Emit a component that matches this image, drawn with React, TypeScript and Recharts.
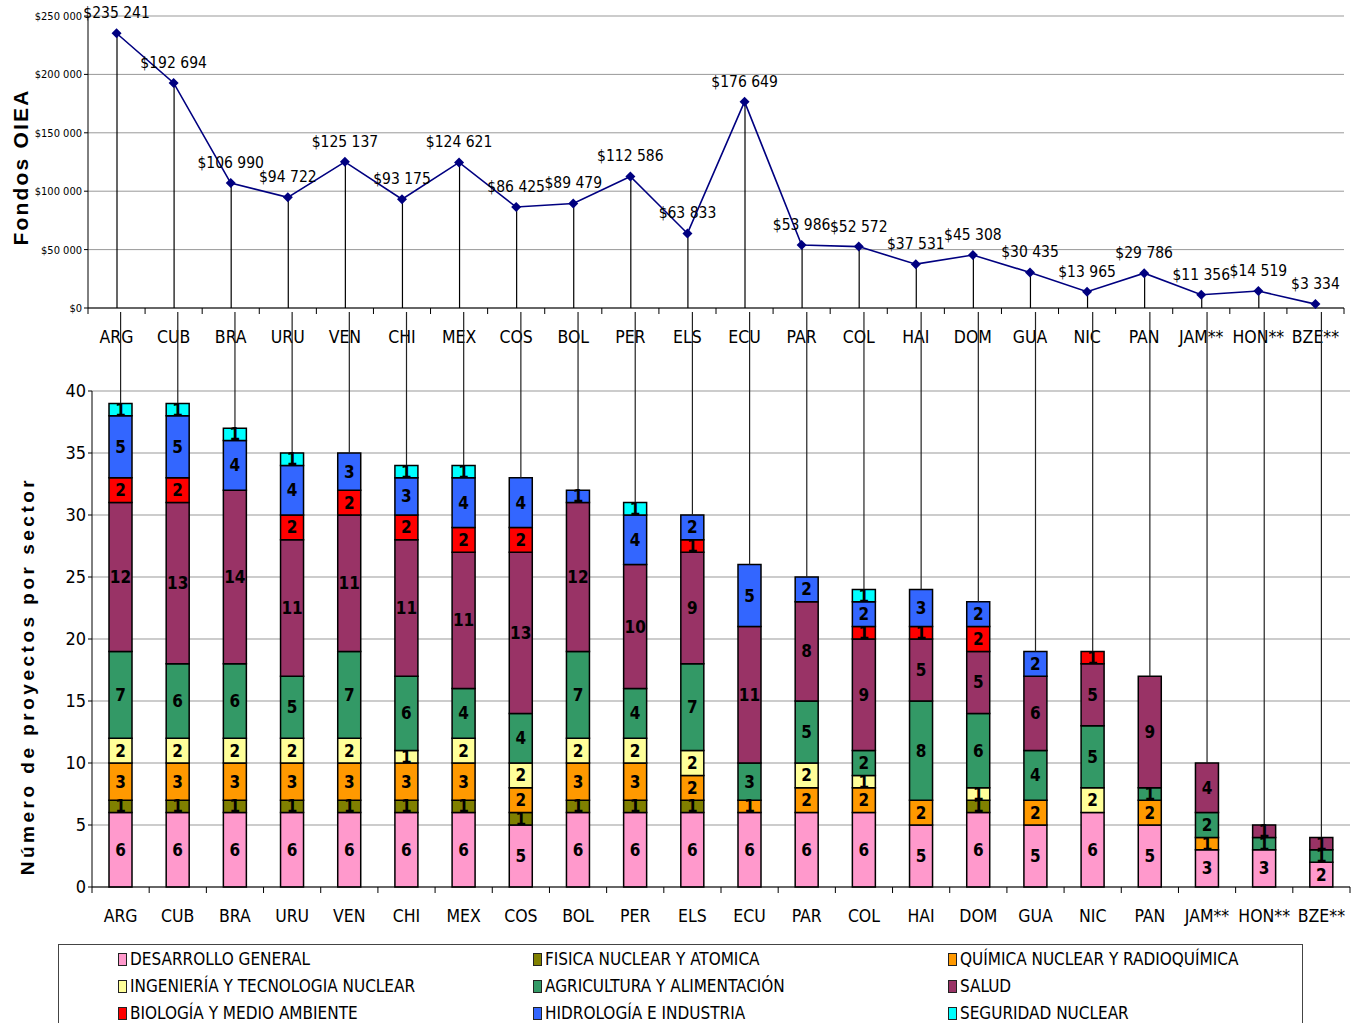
import React from 'react';
import { ComposedChart, Bar, Line, XAxis, YAxis, CartesianGrid, LabelList, Label } from 'recharts';

const countries = ['ARG', 'CUB', 'BRA', 'URU', 'VEN', 'CHI', 'MEX', 'COS', 'BOL', 'PER', 'ELS', 'ECU', 'PAR', 'COL', 'HAI', 'DOM', 'GUA', 'NIC', 'PAN', 'JAM**', 'HON**', 'BZE**'];
const fondos = [235241, 192694, 106990, 94722, 125137, 93175, 124621, 86425, 89479, 112586, 63833, 176649, 53986, 52572, 37531, 45308, 30435, 13965, 29786, 11356, 14519, 3334];
const fondosTicks = [0, 50000, 100000, 150000, 200000, 250000];

// proyectos por sector (de abajo hacia arriba en la pila)
const desarrollo = [6, 6, 6, 6, 6, 6, 6, 5, 6, 6, 6, 6, 6, 6, 5, 6, 5, 6, 5, 3, 3, 2];
const fisica = [1, 1, 1, 1, 1, 1, 1, 1, 1, 1, 1, 0, 0, 0, 0, 1, 0, 0, 0, 0, 0, 0];
const quimica = [3, 3, 3, 3, 3, 3, 3, 2, 3, 3, 2, 1, 2, 2, 2, 0, 2, 0, 2, 1, 0, 0];
const ingenieria = [2, 2, 2, 2, 2, 1, 2, 2, 2, 2, 2, 0, 2, 1, 0, 1, 0, 2, 0, 0, 0, 0];
const agricultura = [7, 6, 6, 5, 7, 6, 4, 4, 7, 4, 7, 3, 5, 2, 8, 6, 4, 5, 1, 2, 1, 1];
const salud = [12, 13, 14, 11, 11, 11, 11, 13, 12, 10, 9, 11, 8, 9, 5, 5, 6, 5, 9, 4, 1, 1];
const biologia = [2, 2, 0, 2, 2, 2, 2, 2, 0, 0, 1, 0, 0, 1, 1, 2, 0, 1, 0, 0, 0, 0];
const hidrologia = [5, 5, 4, 4, 3, 3, 4, 4, 1, 4, 2, 5, 2, 2, 3, 2, 2, 0, 0, 0, 0, 0];
const seguridad = [1, 1, 1, 1, 0, 1, 1, 0, 0, 1, 0, 0, 0, 1, 0, 0, 0, 0, 0, 0, 0, 0];
const proyectosTicks = [0, 5, 10, 15, 20, 25, 30, 35, 40];

const sectores = [
  { key: 'desarrollo', name: 'DESARROLLO GENERAL', color: '#FF99CC', values: desarrollo },
  { key: 'fisica', name: 'FISICA NUCLEAR Y ATOMICA', color: '#808000', values: fisica },
  { key: 'quimica', name: 'QUÍMICA NUCLEAR Y RADIOQUÍMICA', color: '#FF9900', values: quimica },
  { key: 'ingenieria', name: 'INGENIERÍA Y TECNOLOGIA NUCLEAR', color: '#FFFF99', values: ingenieria },
  { key: 'agricultura', name: 'AGRICULTURA Y ALIMENTACIÓN', color: '#339966', values: agricultura },
  { key: 'salud', name: 'SALUD', color: '#993366', values: salud },
  { key: 'biologia', name: 'BIOLOGÍA Y MEDIO AMBIENTE', color: '#FF0000', values: biologia },
  { key: 'hidrologia', name: 'HIDROLOGÍA E INDUSTRIA', color: '#3366FF', values: hidrologia },
  { key: 'seguridad', name: 'SEGURIDAD NUCLEAR', color: '#00FFFF', values: seguridad },
];

const fondosData = countries.map((code, i) => ({ code, fondos: fondos[i] }));
const proyectosData = countries.map((code, i) => {
  const row: any = { code };
  let total = 0;
  sectores.forEach((s) => {
    row[s.key] = s.values[i];
    total += s.values[i];
  });
  row.total = total;
  return row;
});

const NARROW = '"Liberation Sans Narrow", "Arial Narrow", "DejaVu Sans Condensed", sans-serif';
const W = 1354;

const money = (v: number) => {
  if (v === 0) return '$0';
  const k = Math.floor(v / 1000);
  const r = String(v % 1000).padStart(3, '0');
  return `$${k} ${r}`;
};

const makeTick = (step: number) => (props: any) => {
  const { x, y, payload, index } = props;
  const last = index === countries.length - 1;
  return (
    <g>
      <line x1={x - step / 2} y1={y} x2={x - step / 2} y2={y + 6} stroke="#000" />
      {last && <line x1={x + step / 2} y1={y} x2={x + step / 2} y2={y + 6} stroke="#000" />}
      <text x={x} y={y + 29} textAnchor="middle" dominantBaseline="central" fontFamily={NARROW} fontSize={17.5} fill="#000">
        {payload.value}
      </text>
    </g>
  );
};

const Diamond = (p: any) => {
  const { cx, cy } = p;
  if (cx == null || cy == null) return null;
  return <polygon points={`${cx},${cy - 5} ${cx + 5},${cy} ${cx},${cy + 5} ${cx - 5},${cy}`} fill="#000080" />;
};

const DropLine = (p: any) => {
  const cx = p.x + p.width / 2;
  return <line x1={cx} y1={p.y} x2={cx} y2={p.y + p.height} stroke="#000" strokeWidth={1.2} />;
};

const RiseLine = (p: any) => {
  const { cx, cy } = p;
  if (cx == null || cy == null) return null;
  return <line x1={cx} y1={cy} x2={cx} y2={0} stroke="#222" strokeWidth={1.2} />;
};

const SegLabel = (p: any) => {
  const { x, y, width, height, value } = p;
  if (!value) return null;
  return (
    <text x={x + width / 2} y={y + height / 2} textAnchor="middle" dominantBaseline="central" fontFamily={NARROW} fontWeight="bold" fontSize={17} fill="#000">
      {value}
    </text>
  );
};

const AxisTitle = (text: string, cx: number, dy: number, size: number, spacing: number) => (p: any) => {
  const vb = p.viewBox;
  const cy = vb.y + vb.height / 2 + dy;
  return (
    <text x={cx} y={cy} transform={`rotate(-90 ${cx} ${cy})`} textAnchor="middle" dominantBaseline="central" fontFamily="'Liberation Sans', Arial, sans-serif" fontWeight="bold" fontSize={size} letterSpacing={spacing} fill="#000">
      {text}
    </text>
  );
};

const TopChart = () => {
  const step = (W - 10 - 88) / countries.length;
  return (
    <ComposedChart width={W} height={350} data={fondosData} margin={{ top: 16, right: 10, left: 8, bottom: 12 }}>
      <CartesianGrid vertical={false} stroke="#999" />
      <XAxis dataKey="code" tickSize={0} tickMargin={0} tick={makeTick(step)} stroke="#000" height={30} interval={0} />
      <YAxis
        width={80}
        domain={[0, 250000]}
        ticks={fondosTicks}
        tickFormatter={money}
        tickSize={4}
        stroke="#000"
        tick={{ fontFamily: NARROW, fontSize: 11, fill: '#000' }}
      >
        <Label content={AxisTitle('Fondos OIEA', 20, 5, 21, 2.2)} />
      </YAxis>
      <YAxis yAxisId="r" orientation="right" width={0} tick={false} tickLine={false} stroke="#999" domain={[0, 250000]} />
      <Bar dataKey="fondos" barSize={2} shape={DropLine} isAnimationActive={false} />
      <Line dataKey="fondos" stroke="#000080" strokeWidth={1.6} dot={Diamond} activeDot={false} isAnimationActive={false}>
        <LabelList dataKey="fondos" position="top" offset={15} formatter={(v: any) => money(Number(v))} fontFamily={NARROW} fontSize={15.5} fill="#000" />
      </Line>
    </ComposedChart>
  );
};

const BottomChart = () => {
  const step = (W - 4 - 92) / countries.length;
  return (
    <ComposedChart width={W} height={620} data={proyectosData} margin={{ top: 79, right: 4, left: 8, bottom: 15 }}>
      <CartesianGrid vertical={false} stroke="#999" />
      <XAxis dataKey="code" tickSize={0} tickMargin={0} tick={makeTick(step)} stroke="#000" height={30} interval={0} />
      <YAxis
        width={84}
        domain={[0, 40]}
        ticks={proyectosTicks}
        tickSize={4}
        stroke="#000"
        tick={{ fontFamily: NARROW, fontSize: 18, fill: '#000' }}
      >
        <Label content={AxisTitle('Número de proyectos por sector', 27, 37, 19, 3.5)} />
      </YAxis>
      <YAxis yAxisId="r" orientation="right" width={0} tick={false} tickLine={false} stroke="#999" domain={[0, 40]} />
      {sectores.map((s) => (
        <Bar key={s.key} dataKey={s.key} stackId="a" fill={s.color} stroke="#000" strokeWidth={1.5} barSize={23} isAnimationActive={false}>
          <LabelList dataKey={s.key} content={SegLabel} />
        </Bar>
      ))}
      <Line dataKey="total" stroke="none" dot={RiseLine} activeDot={false} isAnimationActive={false} />
    </ComposedChart>
  );
};

const Legend = () => (
  <div
    style={{
      position: 'absolute',
      left: 58,
      top: 944,
      width: 1245,
      height: 100,
      border: '1.5px solid #444',
      boxSizing: 'border-box',
      fontFamily: NARROW,
      fontSize: 17,
      color: '#000',
    }}
  >
    {sectores.map((s, i) => (
      <div
        key={s.key}
        style={{
          position: 'absolute',
          left: 59 + (i % 3) * 415,
          top: 3 + Math.floor(i / 3) * 27,
          display: 'flex',
          alignItems: 'center',
          whiteSpace: 'nowrap',
          height: 22,
        }}
      >
        <span style={{ display: 'inline-block', width: 7, height: 11, background: s.color, border: '1.5px solid #222', marginRight: 3 }} />
        <span>{s.name}</span>
      </div>
    ))}
  </div>
);

export default function App() {
  return (
    <div style={{ position: 'absolute', left: 0, top: 0, width: W, height: 1023, overflow: 'hidden', background: '#fff' }}>
      <div style={{ position: 'absolute', left: 0, top: 0 }}>
        <TopChart />
      </div>
      <div style={{ position: 'absolute', left: 0, top: 312 }}>
        <BottomChart />
      </div>
      <Legend />
    </div>
  );
}
